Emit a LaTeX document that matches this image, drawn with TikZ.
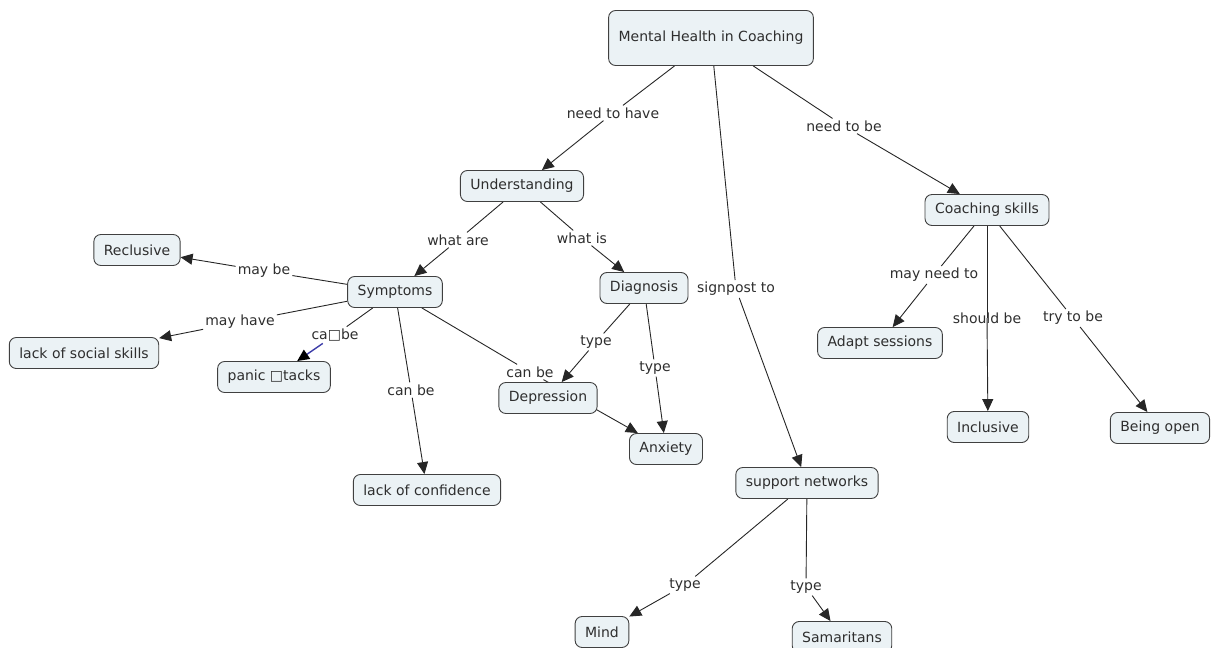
\documentclass[tikz,border=0pt]{standalone}
\usepackage{fontspec}
\setmainfont{DejaVu Sans}
\usetikzlibrary{arrows.meta}
\pgfdeclarelayer{bg}
\pgfsetlayers{bg,main}
\definecolor{cfill}{HTML}{EBF2F5}
\definecolor{ctext}{HTML}{2E2E2E}
\definecolor{cblue}{HTML}{3C3CA8}
\begin{document}
\begin{tikzpicture}[x=1pt,y=-1pt,
  concept/.style={draw=black!75, fill=cfill, rounded corners=7pt, line width=0.9pt,
    text=ctext, font=\fontsize{14}{16}\selectfont, minimum height=31pt,
    inner xsep=10pt, inner ysep=0pt},
  lab/.style={text=ctext, font=\fontsize{14}{16}\selectfont, inner sep=2pt},
  link/.style={line width=0.9pt, draw=black!85},
  arr/.style={link, -{Triangle[length=12pt,width=11pt]}}]
\useasboundingbox (0,0) rectangle (1211,648);

% concepts
\node[concept, minimum height=55pt] (mhc) at (711,38) {Mental Health in Coaching};
\node[concept] (und) at (522,186) {Understanding};
\node[concept] (cs) at (987,210) {Coaching skills};
\node[concept] (recl) at (137,250) {Reclusive};
\node[concept] (symp) at (395,292) {Symptoms};
\node[concept] (diag) at (644,288) {Diagnosis};
\node[concept] (lss) at (84,353) {lack of social skills};
\node[concept] (panic) at (274,377) {panic □tacks};
\node[concept] (adapt) at (880,343) {Adapt sessions};
\node[concept] (dep) at (548,398) {Depression};
\node[concept] (anx) at (666,449) {Anxiety};
\node[concept] (incl) at (988,427) {Inclusive};
\node[concept] (open) at (1160,428) {Being open};
\node[concept] (conf) at (427,490) {lack of confidence};
\node[concept] (sup) at (807,483) {support networks};
\node[concept] (mind) at (602,632) {Mind};
\node[concept] (sam) at (842,637) {Samaritans};

% linking phrases
\node[lab] (l1) at (613,113) {need to have};
\node[lab] (l2) at (844,126) {need to be};
\node[lab] (l3) at (736,289) {signpost to};
\node[lab] (l4) at (458,240) {what are};
\node[lab] (l5) at (582,238) {what is};
\node[lab] (l6) at (264,271) {may be};
\node[lab] (l7) at (240,322) {may have};
\node[lab] (l8) at (335,335) {ca□be};
\node[lab] (l9) at (411,390) {can be};
\node[lab] (l10) at (530,372) {can be};
\node[lab] (l11) at (596,342) {type};
\node[lab] (l12) at (655,368) {type};
\node[lab] (l13) at (934,275) {may need to};
\node[lab] (l14) at (987,318) {should be};
\node[lab] (l15) at (1073,318) {try to be};
\node[lab] (l16) at (685,585) {type};
\node[lab] (l17) at (806,587) {type};

\begin{pgfonlayer}{bg}
\draw[link] (mhc) -- (l1);  \draw[arr] (l1) -- (und);
\draw[link] (mhc) -- (l2);  \draw[arr] (l2) -- (cs);
\draw[link] (mhc) -- (l3);  \draw[arr] (l3) -- (sup);
\draw[link] (und) -- (l4);  \draw[arr] (l4) -- (symp);
\draw[link] (und) -- (l5);  \draw[arr] (l5) -- (diag);
\draw[link] (symp) -- (l6); \draw[arr] (l6) -- (recl);
\draw[link] (symp) -- (l7); \draw[arr] (l7) -- (lss);
\draw[link] (symp) -- (l8);
\draw[link, draw=cblue, line width=1.4pt, -{Triangle[length=12pt,width=11pt,color=black]}] (l8) -- (panic);
\draw[link] (symp) -- (l9);  \draw[arr] (l9) -- (conf);
\draw[link] (symp) -- (l10); \draw[arr] (l10) -- (anx);
\draw[link] (diag) -- (l11); \draw[arr] (l11) -- (dep);
\draw[link] (diag) -- (l12); \draw[arr] (l12) -- (anx);
\draw[link] (cs) -- (l13);   \draw[arr] (l13) -- (adapt);
\draw[link] (cs) -- (l14.center); \draw[arr] (l14.center) -- (incl);
\draw[link] (cs) -- (l15);   \draw[arr] (l15) -- (open);
\draw[link] (sup) -- (l16);  \draw[arr] (l16) -- (mind);
\draw[link] (sup) -- (l17);  \draw[arr] (l17) -- (sam);
\end{pgfonlayer}
\end{tikzpicture}
\end{document}
